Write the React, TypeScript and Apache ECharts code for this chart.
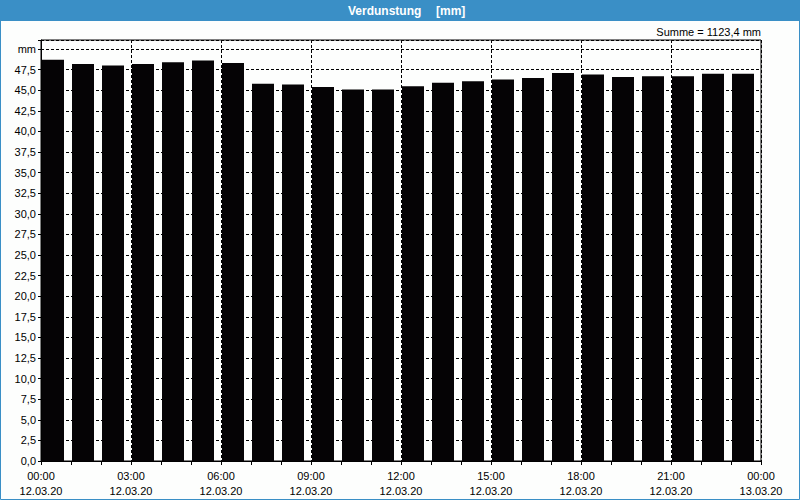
import React, { useEffect, useRef } from "react";
import * as echarts from "echarts";

const hours: number[] = Array.from({ length: 24 }, (_, i) => i);
const values: number[] = [
  48.7, 48.2, 48.0, 48.2, 48.4, 48.6, 48.3, 45.8, 45.7, 45.4, 45.1, 45.1,
  45.5, 45.9, 46.1, 46.3, 46.5, 47.1, 46.9, 46.6, 46.7, 46.7, 47.0, 47.0,
];
const titleText = "Verdunstung";
const unitText = "[mm]";
const sumText = "Summe = 1123,4 mm";
const dateStart = "12.03.20";
const dateEnd = "13.03.20";

export default function App() {
  const ref = useRef<HTMLDivElement>(null);
  useEffect(() => {
    if (!ref.current) return;
    const chart = echarts.init(ref.current, null, { renderer: "svg" });
    const font = "Liberation Sans, Arial, sans-serif";
    const dash = [3, 2];
    chart.setOption({
      animation: false,
      backgroundColor: "#fdfefd",
      grid: {
        left: 41,
        top: 40,
        width: 720,
        height: 421,
        show: true,
        backgroundColor: "#fdfefd",
        borderColor: "#000",
        borderWidth: 1,
        z: 0,
      },
      xAxis: {
        type: "value",
        min: 0,
        max: 24,
        interval: 3,
        axisLine: { show: true, lineStyle: { color: "#000", width: 1 } },
        axisTick: { show: true, length: 4, lineStyle: { color: "#000" } },
        minorTick: { show: true, splitNumber: 3, length: 4, lineStyle: { color: "#000" } },
        splitLine: { show: true, lineStyle: { color: "#000", type: dash, width: 1 } },
        axisLabel: {
          fontFamily: font,
          fontSize: 11,
          color: "#000",
          margin: 7,
          lineHeight: 15,
          showMinLabel: true,
          showMaxLabel: true,
          formatter: (v: number) => {
            const h = Math.round(v) % 24;
            const hh = (h < 10 ? "0" : "") + h + ":00";
            return hh + "\n" + (v >= 24 ? dateEnd : dateStart);
          },
        },
      },
      yAxis: {
        type: "value",
        min: 0,
        max: 51.1,
        interval: 2.5,
        axisLine: { show: true, lineStyle: { color: "#000", width: 1 } },
        axisTick: { show: true, length: 3, lineStyle: { color: "#000" } },
        splitLine: { show: true, lineStyle: { color: "#000", type: dash, width: 1 } },
        axisLabel: {
          fontFamily: font,
          fontSize: 11,
          color: "#000",
          margin: 5,
          formatter: (v: number) => {
            const r = Math.round(v * 10) / 10;
            if (Math.abs(r - 50) < 1e-6) return "mm";
            if (Math.abs(r / 2.5 - Math.round(r / 2.5)) > 1e-6 || r > 50) return "";
            return r.toFixed(1).replace(".", ",");
          },
        },
      },
      series: [
        {
          type: "bar",
          barWidth: 22,
          itemStyle: { color: "#050305" },
          data: values.map((v, i) => [hours[i] + 0.4, v]),
          z: 2,
        },
      ],
      graphic: [
        {
          type: "rect",
          shape: { x: 0, y: 0, width: 800, height: 21 },
          style: { fill: "#3a8fc6" },
          z: 10,
        },
        {
          type: "rect",
          shape: { x: 0.5, y: 0.5, width: 799, height: 499 },
          style: { fill: "none", stroke: "#3a8fc6", lineWidth: 1 },
          z: 10,
        },
        {
          type: "text",
          x: 348,
          y: 11,
          z: 11,
          style: {
            text: titleText,
            fill: "#fff",
            font: "bold 12px " + font,
            align: "left",
            verticalAlign: "middle",
          },
        },
        {
          type: "text",
          x: 436,
          y: 11,
          z: 11,
          style: {
            text: unitText,
            fill: "#fff",
            font: "bold 12px " + font,
            align: "left",
            verticalAlign: "middle",
          },
        },
        {
          type: "text",
          x: 761,
          y: 32,
          z: 11,
          style: {
            text: sumText,
            fill: "#000",
            font: "11px " + font,
            align: "right",
            verticalAlign: "middle",
          },
        },
      ],
    });
    return () => chart.dispose();
  }, []);
  return (
    <div
      ref={ref}
      style={{ position: "fixed", left: 0, top: 0, width: 800, height: 500 }}
    />
  );
}
